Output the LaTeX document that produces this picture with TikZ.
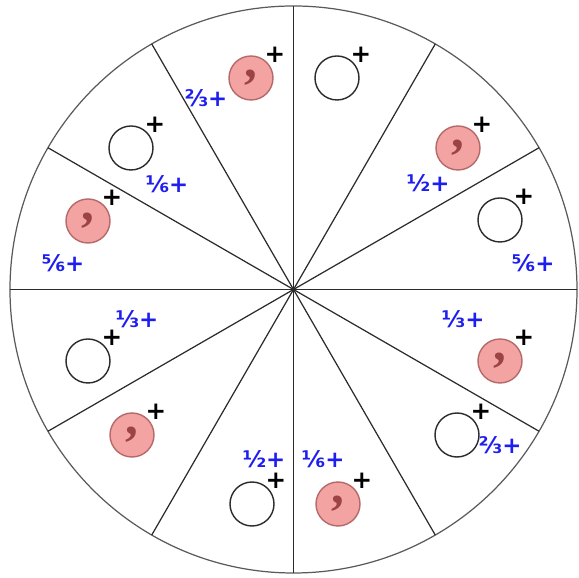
\documentclass[tikz,border=0pt]{standalone}
\usepackage{fontspec}
\setmainfont{DejaVu Sans}
\newfontfamily\commafont{Liberation Serif}
\usepackage{xcolor}
\definecolor{wheelink}{HTML}{2B2B2B}
\definecolor{wheelrim}{HTML}{5A5A5A}
\definecolor{dotfill}{HTML}{F4A3A3}
\definecolor{dotedge}{HTML}{B56A6A}
\definecolor{dotmark}{HTML}{9C4343}
\definecolor{fracblue}{HTML}{1E1EF0}

\begin{document}
\begin{tikzpicture}[
  x=1cm,
  y=1cm,
  every node/.style={font=\normalsize},
  plaindot/.style={circle, draw=wheelink, line width=0.8pt, fill=white, minimum size=0.88cm, inner sep=0pt},
  pinkdot/.style={plaindot, draw=dotedge, fill=dotfill, text=dotmark, font=\commafont\bfseries\fontsize{29}{29}\selectfont},
  plusmark/.style={xshift=0.48cm, yshift=0.46cm, inner sep=0pt, font=\bfseries\fontsize{14}{14}\selectfont},
  fraclabel/.style={text=fracblue, inner sep=0pt, font=\bfseries\fontsize{13}{13}\selectfont}
]
  \useasboundingbox (-5.87,-5.77) rectangle (5.71,5.79);

  \draw[wheelrim, line width=0.7pt] (0,0) circle (5.67);
  \foreach \a in {0,30,...,330}
    \draw[wheelink, line width=0.7pt] (0,0) -- (\a:5.67);

  % plain and marked dots, each with its plus
  \foreach \n/\x/\y in {2/0.87/4.23, 4/4.13/1.39, 6/3.27/-2.91, 8/-0.83/-4.29, 10/-4.11/-1.43, 12/-3.25/2.83} {
    \node[plaindot] (c\n) at (\x,\y) {};
    \node[plusmark] (p\n) at (c\n) {+};
  }
  \foreach \n/\x/\y in {1/-0.85/4.23, 3/3.29/2.83, 5/4.13/-1.43, 7/0.89/-4.29, 9/-3.23/-2.91, 11/-4.11/1.37} {
    \node[pinkdot] (c\n) at (\x,\y) {,};
    \node[plusmark] (p\n) at (c\n) {+};
  }

  \node[fraclabel] (f1) at (-1.75,3.83) {⅔+};
  \node[fraclabel] (f3) at (2.69,2.13) {½+};
  \node[fraclabel] (f4) at (4.79,0.53) {⅚+};
  \node[fraclabel] (f5) at (3.39,-0.59) {⅓+};
  \node[fraclabel] (f6) at (4.13,-3.11) {⅔+};
  \node[fraclabel] (f7) at (0.59,-3.39) {⅙+};
  \node[fraclabel] (f8) at (-0.59,-3.39) {½+};
  \node[fraclabel] (f10) at (-3.13,-0.59) {⅓+};
  \node[fraclabel] (f11) at (-4.61,0.53) {⅚+};
  \node[fraclabel] (f12) at (-2.53,2.11) {⅙+};
\end{tikzpicture}
\end{document}
